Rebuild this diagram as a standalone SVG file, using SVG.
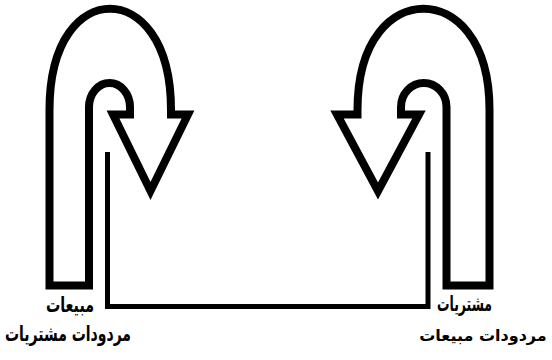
<svg xmlns="http://www.w3.org/2000/svg" width="552" height="360" viewBox="0 0 552 360">
<style>
.arrow{fill:none;stroke:#000;stroke-width:8;stroke-linejoin:miter;stroke-miterlimit:10}
.link{fill:none;stroke:#000;stroke-width:5}
.lbl{font-family:"DejaVu Sans",sans-serif;font-weight:bold;font-size:21px;fill:#000;text-anchor:middle}
</style>
<rect width="552" height="360" fill="#fff"/>
<g id="connectors">
<path class="link" d="M107.5,152 V306.5 H428 V152"/>
</g>
<g id="arrow-left">
<path class="arrow" d="M89,285.5 V107 A20.5,24 0 0 1 130,107 V114.5 H113 L150.5,191 L188,114.5 H171 V110 C171,38 138,8.7 110,8.7 C82,8.7 49.5,38 49.5,110 V285.5 Z"/>
</g>
<g id="arrow-right">
<path class="arrow" d="M446.5,285.5 V107 A22.75,24 0 0 0 401,107 V114.5 H419 L378,191 L337,114.5 H357.5 V110 C357.5,38 393,8.7 423.5,8.7 C454,8.7 489.5,38 489.5,110 V285.5 Z"/>
</g>
<g id="label-left">
<text class="lbl" x="70" y="312" textLength="48" lengthAdjust="spacingAndGlyphs">مبيعات</text>
<text class="lbl" x="68" y="341" textLength="126" lengthAdjust="spacingAndGlyphs">مردودات مشتريات</text>
</g>
<g id="label-right">
<text class="lbl" x="464.5" y="311" textLength="55" lengthAdjust="spacingAndGlyphs">مشتريات</text>
<text class="lbl" x="483" y="341" style="font-size:16px">مردودات مبيعات</text>
</g>
</svg>
